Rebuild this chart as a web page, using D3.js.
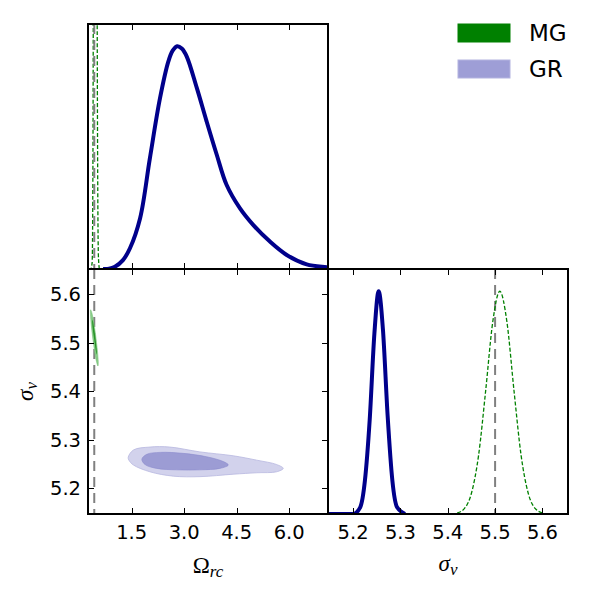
<!DOCTYPE html>
<html>
<head>
<meta charset="utf-8">
<script src="https://cdn.jsdelivr.net/npm/d3@7"></script>
<style>
  body { margin: 0; background: #fff; }
  text { font-family: "DejaVu Sans", sans-serif; }
  .math { font-family: "Liberation Serif", "DejaVu Serif", serif; }
</style>
</head>
<body>
<svg id="main_svg" width="593" height="594"></svg>
<script>
// ---- data ----
const omegaTicks = [1.5, 3.0, 4.5, 6.0];
const sigmaTicks = [5.2, 5.3, 5.4, 5.5, 5.6];
const fiducialOmega = 0.43;
const fiducialSigma = 5.5;
const legendLabels = ["MG", "GR"];

// 1D marginal of Omega_rc (normalised to peak 1)
const omegaGR = [[0.68, 0], [0.85, 0.001], [1.02, 0.01], [1.25, 0.04], [1.45, 0.093], [1.74, 0.228], [2.02, 0.498],
  [2.31, 0.768], [2.55, 0.933], [2.67, 0.98], [2.80, 1.0], [2.93, 0.99], [3.07, 0.955], [3.36, 0.813], [3.64, 0.663],
  [3.93, 0.513], [4.21, 0.378], [4.59, 0.273], [4.97, 0.198], [5.45, 0.123], [5.93, 0.063], [6.50, 0.021],
  [7.07, 0.008], [7.3, 0.004]];
const omegaMG = [[0.26, 0], [0.33, 0], [0.37, 0.03], [0.39, 0.4], [0.41, 1.8], [0.44, 4.6], [0.47, 5.0],
  [0.49, 3.6], [0.51, 1.4], [0.53, 0.35], [0.55, 0.05], [0.58, 0], [0.65, 0]];

// 1D marginal of sigma_v
const sigmaGR = [[5.10, 0], [5.20, 0], [5.215, 0.03], [5.225, 0.15], [5.235, 0.42], [5.245, 0.81], [5.254, 1.0],
  [5.263, 0.83], [5.273, 0.44], [5.283, 0.15], [5.293, 0.03], [5.31, 0]];
const sigmaMG = [[5.42, 0.005], [5.435, 0.024], [5.45, 0.093], [5.465, 0.262], [5.48, 0.552], [5.495, 0.862],
  [5.51, 1.0], [5.525, 0.862], [5.54, 0.552], [5.555, 0.262], [5.57, 0.093], [5.585, 0.024], [5.60, 0.005]];

// 2D contours (Omega_rc, sigma_v): outer = 95%, inner = 68%
const grOuter = [[1.40, 5.264], [1.55, 5.279], [2.02, 5.285], [2.59, 5.285], [3.45, 5.275], [4.40, 5.267],
  [5.07, 5.258], [5.64, 5.249], [5.83, 5.241], [5.64, 5.234], [5.07, 5.232], [4.40, 5.229], [3.45, 5.224],
  [2.69, 5.225], [2.02, 5.234], [1.55, 5.248], [1.42, 5.258]];
const grInner = [[1.79, 5.260], [1.93, 5.270], [2.31, 5.274], [2.97, 5.272], [3.64, 5.265], [4.12, 5.255],
  [4.26, 5.248], [4.02, 5.241], [3.45, 5.238], [2.79, 5.238], [2.21, 5.241], [1.88, 5.249]];
const mgOuter = [[0.325, 5.568], [0.360, 5.562], [0.450, 5.526], [0.545, 5.460], [0.535, 5.452],
  [0.490, 5.462], [0.405, 5.500], [0.330, 5.548]];
const mgInner = [[0.375, 5.548], [0.400, 5.542], [0.480, 5.500], [0.505, 5.476], [0.490, 5.478],
  [0.425, 5.508], [0.372, 5.538]];

// ---- layout ----
const p1 = {x0: 88, x1: 328, y0: 24, y1: 269};   // top left, Omega marginal
const p2 = {x0: 88, x1: 328, y0: 269, y1: 514};  // bottom left, 2D
const p3 = {x0: 328, x1: 568, y0: 269, y1: 514}; // bottom right, sigma marginal
const tickLen = 6;

const colGR = "#00008b";
const colMG = "#008000";

const xOm = d3.scaleLinear().domain([0.251, 7.109]).range([p1.x0, p1.x1]);
const ySig = d3.scaleLinear().domain([5.147, 5.652]).range([p2.y1, p2.y0]);
const xSig = d3.scaleLinear().domain([5.147, 5.654]).range([p3.x0, p3.x1]);
const yD1 = d3.scaleLinear().domain([0, 1.1]).range([p1.y1, p1.y0]);
const yD3 = d3.scaleLinear().domain([0, 1.1]).range([p3.y1, p3.y0]);

const svg = d3.select("#main_svg");
const defs = svg.append("defs");
[["c1", p1], ["c2", p2], ["c3", p3]].forEach(([id, p]) => {
  defs.append("clipPath").attr("id", id).append("rect")
    .attr("x", p.x0).attr("y", p.y0).attr("width", p.x1 - p.x0).attr("height", p.y1 - p.y0);
});

// ---- panel 1: Omega_rc marginal ----
const g1 = svg.append("g").attr("clip-path", "url(#c1)");
const line1 = d3.line().x(d => xOm(d[0])).y(d => yD1(d[1])).curve(d3.curveCatmullRom);
const line1b = d3.line().x(d => xOm(d[0])).y(d => yD1(d[1])).curve(d3.curveMonotoneX);
g1.append("path").attr("d", line1(omegaGR)).attr("fill", "none")
  .attr("stroke", colGR).attr("stroke-width", 4);
g1.append("path").attr("d", line1b(omegaMG)).attr("fill", "none")
  .attr("stroke", colMG).attr("stroke-width", 1.3).attr("stroke-dasharray", "4,2");
g1.append("line").attr("x1", xOm(fiducialOmega)).attr("x2", xOm(fiducialOmega))
  .attr("y1", p1.y0).attr("y2", p1.y1)
  .attr("stroke", "#808080").attr("stroke-width", 2).attr("stroke-dasharray", "10,6");

// ---- panel 2: 2D contours ----
const g2 = svg.append("g").attr("clip-path", "url(#c2)");
g2.append("line").attr("x1", xOm(fiducialOmega)).attr("x2", xOm(fiducialOmega))
  .attr("y1", p2.y0).attr("y2", p2.y1)
  .attr("stroke", "#808080").attr("stroke-width", 2).attr("stroke-dasharray", "10,6");
const area2 = d3.line().x(d => xOm(d[0])).y(d => ySig(d[1])).curve(d3.curveCatmullRomClosed);
g2.append("path").attr("d", area2(grOuter)).attr("fill", "#d2d2ec").attr("stroke", "#b8b8e0").attr("stroke-width", 0.8);
g2.append("path").attr("d", area2(grInner)).attr("fill", "#9c9cd4").attr("stroke", "#8c8ccc").attr("stroke-width", 0.6);
g2.append("path").attr("d", area2(mgOuter)).attr("fill", "#88cc88").attr("stroke", "#70bf70").attr("stroke-width", 0.5);
g2.append("path").attr("d", area2(mgInner)).attr("fill", "#2a942a");

// ---- panel 3: sigma_v marginal ----
const g3 = svg.append("g").attr("clip-path", "url(#c3)");
const line3 = d3.line().x(d => xSig(d[0])).y(d => yD3(d[1])).curve(d3.curveMonotoneX);
g3.append("line").attr("x1", xSig(fiducialSigma)).attr("x2", xSig(fiducialSigma))
  .attr("y1", p3.y0).attr("y2", p3.y1)
  .attr("stroke", "#808080").attr("stroke-width", 2).attr("stroke-dasharray", "10,6");
g3.append("path").attr("d", line3(sigmaGR)).attr("fill", "none")
  .attr("stroke", colGR).attr("stroke-width", 4);
g3.append("path").attr("d", line3(sigmaMG)).attr("fill", "none")
  .attr("stroke", colMG).attr("stroke-width", 1.3).attr("stroke-dasharray", "4,2");

// ---- inward ticks ----
function xTicks(scale, vals, p) {
  vals.forEach(v => {
    const x = Math.round(scale(v)) + 0.5;
    svg.append("line").attr("x1", x).attr("x2", x).attr("y1", p.y0).attr("y2", p.y0 + tickLen).attr("stroke", "#000");
    svg.append("line").attr("x1", x).attr("x2", x).attr("y1", p.y1).attr("y2", p.y1 - tickLen).attr("stroke", "#000");
  });
}
xTicks(xOm, omegaTicks, p1);
xTicks(xOm, omegaTicks, p2);
xTicks(xSig, sigmaTicks, p3);
sigmaTicks.forEach(v => {
  const y = Math.round(ySig(v)) + 0.5;
  svg.append("line").attr("x1", p2.x0).attr("x2", p2.x0 + tickLen).attr("y1", y).attr("y2", y).attr("stroke", "#000");
  svg.append("line").attr("x1", p2.x1).attr("x2", p2.x1 - tickLen).attr("y1", y).attr("y2", y).attr("stroke", "#000");
});

// frames
[p1, p2, p3].forEach(p => {
  svg.append("rect").attr("x", p.x0).attr("y", p.y0).attr("width", p.x1 - p.x0).attr("height", p.y1 - p.y0)
    .attr("fill", "none").attr("stroke", "#000").attr("stroke-width", 2);
});

// tick labels
const fmt = d3.format(".1f");
svg.append("g").selectAll("text").data(omegaTicks).enter().append("text")
  .attr("x", d => xOm(d)).attr("y", 539).attr("text-anchor", "middle").attr("font-size", 19.5).text(fmt);
svg.append("g").selectAll("text").data(sigmaTicks).enter().append("text")
  .attr("x", d => xSig(d)).attr("y", 539).attr("text-anchor", "middle").attr("font-size", 19.5).text(fmt);
svg.append("g").selectAll("text").data(sigmaTicks).enter().append("text")
  .attr("x", 81).attr("y", d => ySig(d)).attr("dy", "0.36em").attr("text-anchor", "end").attr("font-size", 19.5).text(fmt);

// axis labels (math style)
const omLab = svg.append("text").attr("class", "math").attr("x", (p2.x0 + p2.x1) / 2).attr("y", 573)
  .attr("text-anchor", "middle").attr("font-size", 23);
omLab.append("tspan").text("Ω");
omLab.append("tspan").attr("font-style", "italic").attr("font-size", 17).attr("dy", 4).text("rc");

const sgLab = svg.append("text").attr("class", "math").attr("x", (p3.x0 + p3.x1) / 2).attr("y", 571)
  .attr("text-anchor", "middle").attr("font-size", 23);
sgLab.append("tspan").attr("font-style", "italic").text("σ");
sgLab.append("tspan").attr("font-style", "italic").attr("font-size", 17).attr("dy", 4).text("v");

const syLab = svg.append("text").attr("class", "math")
  .attr("transform", "translate(33," + ((p2.y0 + p2.y1) / 2) + ") rotate(-90)")
  .attr("text-anchor", "middle").attr("font-size", 23);
syLab.append("tspan").attr("font-style", "italic").text("σ");
syLab.append("tspan").attr("font-style", "italic").attr("font-size", 17).attr("dy", 4).text("v");

// legend
const legend = svg.append("g").attr("id", "legend_g");
legend.selectAll("rect").data(legendLabels).enter().append("rect")
  .attr("x", 458).attr("y", (d, i) => 24 + i * 36).attr("width", 52).attr("height", 18)
  .attr("fill", (d, i) => i === 0 ? colMG : "#9e9ed6")
  .attr("stroke", (d, i) => i === 0 ? colMG : "#b4b4e0").attr("stroke-width", 1);
legend.selectAll("text").data(legendLabels).enter().append("text")
  .attr("x", 529).attr("y", (d, i) => 33 + i * 36).attr("dy", "0.36em").attr("font-size", 23).text(d => d);
</script>
</body>
</html>
